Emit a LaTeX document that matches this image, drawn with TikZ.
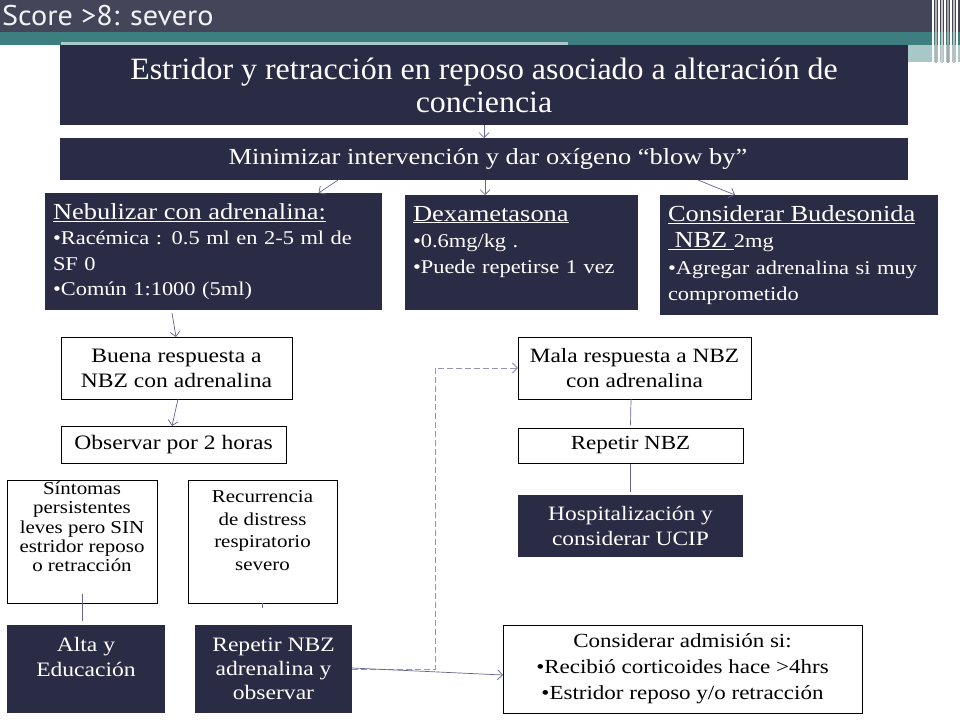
\documentclass[tikz,border=0pt]{standalone}
\usepackage{fontspec}
\setmainfont{Liberation Serif}[FakeStretch=1.15]
\newfontfamily\titlefont{Liberation Serif}[FakeStretch=1.03]
\newfontfamily\headfont{PT Sans}[FakeStretch=1.06]
\usetikzlibrary{arrows.meta,calc}
\definecolor{boxblue}{RGB}{42,43,69}
\definecolor{headgray}{RGB}{68,69,88}
\definecolor{tealband}{RGB}{61,126,128}
\definecolor{lightteal}{RGB}{168,200,200}
\definecolor{arrowc}{RGB}{100,100,150}
\definecolor{dashc}{RGB}{150,150,180}
\definecolor{headtxt}{RGB}{242,242,246}
\newcommand{\fs}[2]{\fontsize{#1}{#2}\selectfont}
\begin{document}
\begin{tikzpicture}[x=1pt,y=-1pt,
  dark/.style={draw=none, fill=boxblue, text=white, inner sep=0pt, outer sep=0pt, align=center},
  light/.style={draw=black, line width=0.8pt, fill=white, text=black, inner sep=0pt, outer sep=0pt, align=center},
  arr/.style={-{Straight Barb[length=5pt,width=10pt]}, draw=arrowc, line width=0.7pt},
  link/.style={draw=arrowc, line width=0.7pt},
  dashlink/.style={draw=dashc, line width=1pt, dash pattern=on 6pt off 3pt, -{Straight Barb[length=5pt,width=10pt]}}
]
\useasboundingbox (0,0) rectangle (960,720);
\fill[white] (0,0) rectangle (960,720);
% header
\fill[headgray] (0,0) rectangle (960,32);
\fill[tealband] (0,32) rectangle (960,45);
\fill[lightteal] (61,42) rectangle (568,45);
\fill[lightteal] (908,45) rectangle (960,62);
\foreach \xx/\cc in {932/white,935/gray!60,938/white,941/gray!40,944/white,947/gray!70,950/white,953/gray!50,956/white}
  \fill[\cc] (\xx,0) rectangle ++(1.5,63);
\node[anchor=west, text=headtxt, font=\headfont\fs{28.5}{30}, inner sep=0pt] (head) at (2,16) {Score >8: severo};

% boxes
\node[dark, minimum width=848pt, minimum height=80pt, font=\titlefont\fs{31}{33}] (top) at (484,85)
  {Estridor y retracción en reposo asociado a alteración de\\conciencia};
\node[dark, minimum width=848pt, minimum height=42pt, font=\fs{23}{25}] (min) at (484,159)
  {\hspace*{8pt}Minimizar intervención y dar oxígeno “blow by”};
\node[dark, minimum height=117pt, text width=321pt, inner xsep=8pt, align=left, font=\fs{19.5}{25.5}] (nebul) at (213.5,251.5)
  {{\fs{23}{25.5}\underline{Nebulizar con adrenalina:}}\\•Racémica : 0.5 ml en 2-5 ml de\\SF 0\\•Común 1:1000 (5ml)};
\node[dark, minimum height=115pt, text width=217pt, inner xsep=8pt, align=left, font=\fs{19.5}{26}] (dexa) at (521.5,252.5)
  {{\fs{23}{26}\underline{Dexametasona}}\\•0.6mg/kg .\\•Puede repetirse 1 vez\\\mbox{}};
\node[dark, minimum height=120pt, text width=262pt, inner xsep=8pt, align=left, font=\fs{19.5}{26.5}] (bud) at (799,255)
  {{\fs{23}{26.5}\underline{Considerar Budesonida}}\\{\fs{23}{26.5}\underline{\ NBZ\ }}2mg\\•Agregar adrenalina si muy\\comprometido};

\node[light, minimum width=231pt, minimum height=62pt, font=\fs{20.5}{25}] (buena) at (176.5,368)
  {Buena respuesta a\\NBZ con adrenalina};
\node[light, minimum width=225pt, minimum height=37pt, font=\fs{20.5}{25}] (obs) at (173.5,444.5)
  {Observar por 2 horas};
\node[light, minimum width=150pt, minimum height=123pt, font=\fs{18.2}{19.3}] (sint) at (82,541.5)
  {Síntomas\\persistentes\\leves pero SIN\\estridor reposo\\o retracción\\[10pt]\mbox{}};
\node[light, minimum width=149pt, minimum height=123pt, font=\fs{18.2}{22.5}] (recur) at (262.5,541.5)
  {Recurrencia\\de distress\\respiratorio\\severo\\\mbox{}};
\node[dark, minimum width=158pt, minimum height=88pt, font=\fs{20.5}{25}] (alta) at (86,669)
  {Alta y\\Educación\\\mbox{}};
\node[dark, minimum width=157pt, minimum height=88pt, font=\fs{20.5}{24}] (rep) at (273.5,669)
  {Repetir NBZ\\adrenalina y\\observar};

\node[light, minimum width=233pt, minimum height=62pt, font=\fs{20.3}{25}] (mala) at (634.5,368)
  {Mala respuesta a NBZ\\con adrenalina};
\node[light, minimum width=225pt, minimum height=35pt, font=\fs{20}{24}] (repnbz) at (630.5,445.5)
  {Repetir NBZ};
\node[dark, minimum width=225pt, minimum height=62pt, font=\fs{20.4}{25}] (hosp) at (630.5,526)
  {Hospitalización y\\considerar UCIP};
\node[light, minimum width=359pt, minimum height=88pt, font=\fs{20}{26}] (adm) at (682.5,669)
  {Considerar admisión si:\\•Recibió corticoides hace >4hrs\\•Estridor reposo y/o retracción};

% connectors
\draw[arr] (top.south) -- (min.north);
\draw[arr] ([xshift=-146pt]min.south) -- ([xshift=105pt]nebul.north);
\draw[arr] ([xshift=1pt]min.south) -- ([xshift=-36.5pt]dexa.north);
\draw[arr] ([xshift=214pt]min.south) -- ([xshift=-64pt]bud.north);
\draw[arr] ([xshift=-41.5pt,yshift=-3pt]nebul.south) -- ([xshift=-0.5pt]buena.north);
\draw[arr] ([xshift=1.5pt]buena.south) -- ([xshift=-1.5pt]obs.north);
\draw[link] ([yshift=9pt]sint.south) -- ([xshift=-4pt,yshift=4pt]alta.north);
\coordinate (rt) at ([yshift=-5pt]recur.south);
\draw[link] (recur.south) -- (rt);
\draw[dashlink] (rep.east) -- ++(83,0) |- (mala.west);
\draw[arr] ([yshift=1pt]rep.east) -- ([yshift=-6pt]adm.west);
\draw[link] ([xshift=-3.5pt]mala.south) -- ([yshift=3pt]repnbz.north);
\draw[link] ([yshift=-1pt]repnbz.south) -- ([yshift=3pt]hosp.north);
\end{tikzpicture}
\end{document}
